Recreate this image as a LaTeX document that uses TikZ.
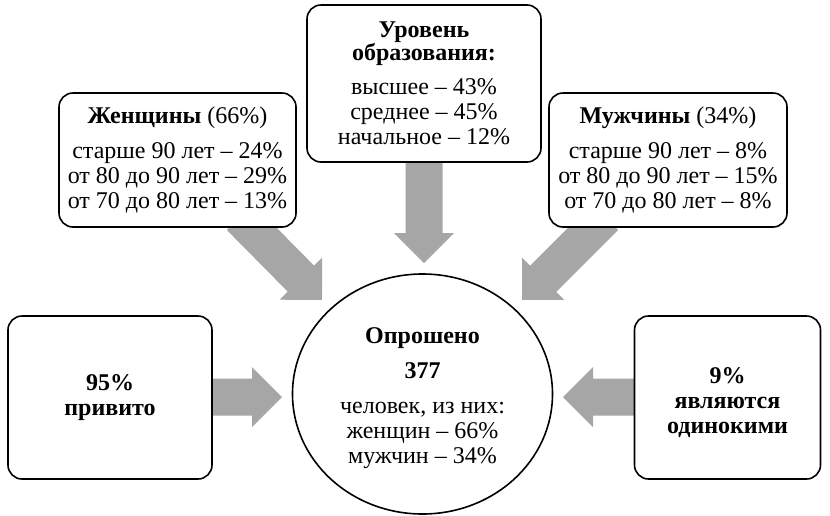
\documentclass[tikz,border=0pt]{standalone}
\usepackage{fontspec}
\setmainfont{Liberation Serif}
\usetikzlibrary{calc,shapes.geometric}
\definecolor{arrowgray}{HTML}{A6A6A6}
\tikzset{
  txt/.style={font=\fontsize{24}{25}\selectfont, align=center, inner sep=0pt},
  box/.style={txt, draw=black, line width=1.6pt, rounded corners=14pt, fill=white},
  oval/.style={txt, draw=black, line width=1.6pt, ellipse, fill=white},
  arrowfill/.style={fill=arrowgray}
}
\newcommand\blockarrow[2]{%
  \path[arrowfill] let \p1=(#1), \p2=(#2),
    \n1={atan2(\y2-\y1,\x2-\x1)}, \n2={veclen(\x2-\x1,\y2-\y1)} in
    [shift={(\p1)}, rotate=\n1]
    (0pt,-18.5pt) -- ({\n2*1pt-30pt},-18.5pt) -- ({\n2*1pt-30pt},-30pt) --
    ({\n2*1pt},0pt) -- ({\n2*1pt-30pt},30pt) -- ({\n2*1pt-30pt},18.5pt) --
    (0pt,18.5pt) -- cycle;}
\begin{document}
\begin{tikzpicture}[x=1pt,y=-1pt]
\useasboundingbox (0,0) rectangle (830,515);
% arrow end points
\coordinate (tTop) at (424,150);  \coordinate (hTop) at (424,263);
\coordinate (tW)   at (240,217);  \coordinate (hW)   at (322,300);
\coordinate (tM)   at (605,217);  \coordinate (hM)   at (522,300);
\coordinate (tL)   at (200,397);  \coordinate (hL)   at (282,397);
\coordinate (tR)   at (645,397);  \coordinate (hR)   at (563,397);
\blockarrow{tTop}{hTop}
\blockarrow{tW}{hW}
\blockarrow{tM}{hM}
\blockarrow{tL}{hL}
\blockarrow{tR}{hR}
% boxes
\node[box, minimum width=234pt, minimum height=157pt] (edu) at (424,83.5)
  {\textbf{Уровень}\\[-2pt] \textbf{образования:}\\[9pt] высшее – 43\%\\ среднее – 45\%\\ начальное – 12\%};
\node[box, minimum width=237pt, minimum height=134pt] (women) at (177.5,160)
  {\textbf{Женщины} (66\%)\\[10pt] старше 90 лет – 24\%\\ от 80 до 90 лет – 29\%\\ от 70 до 80 лет – 13\%};
\node[box, minimum width=238pt, minimum height=134pt] (men) at (668,160)
  {\textbf{Мужчины} (34\%)\\[10pt] старше 90 лет – 8\%\\ от 80 до 90 лет – 15\%\\ от 70 до 80 лет – 8\%};
\node[box, minimum width=204pt, minimum height=163pt] (vacc) at (110,397.5)
  {\textbf{95\%}\\ \textbf{привито}};
\node[box, minimum width=186pt, minimum height=163pt] (alone) at (727.5,397.5) {};
\node[txt] (alonetxt) at (727.5,403) {\textbf{9\%}\\ \textbf{являются}\\ \textbf{одинокими}};
\node[oval, minimum width=260pt, minimum height=240pt] (total) at (422.5,394) {};
\node[txt] (totaltxt) at (422.5,398)
  {\textbf{Опрошено}\\[10pt] \textbf{377}\\[10pt] человек, из них:\\ женщин – 66\%\\ мужчин – 34\%};
\end{tikzpicture}
\end{document}
